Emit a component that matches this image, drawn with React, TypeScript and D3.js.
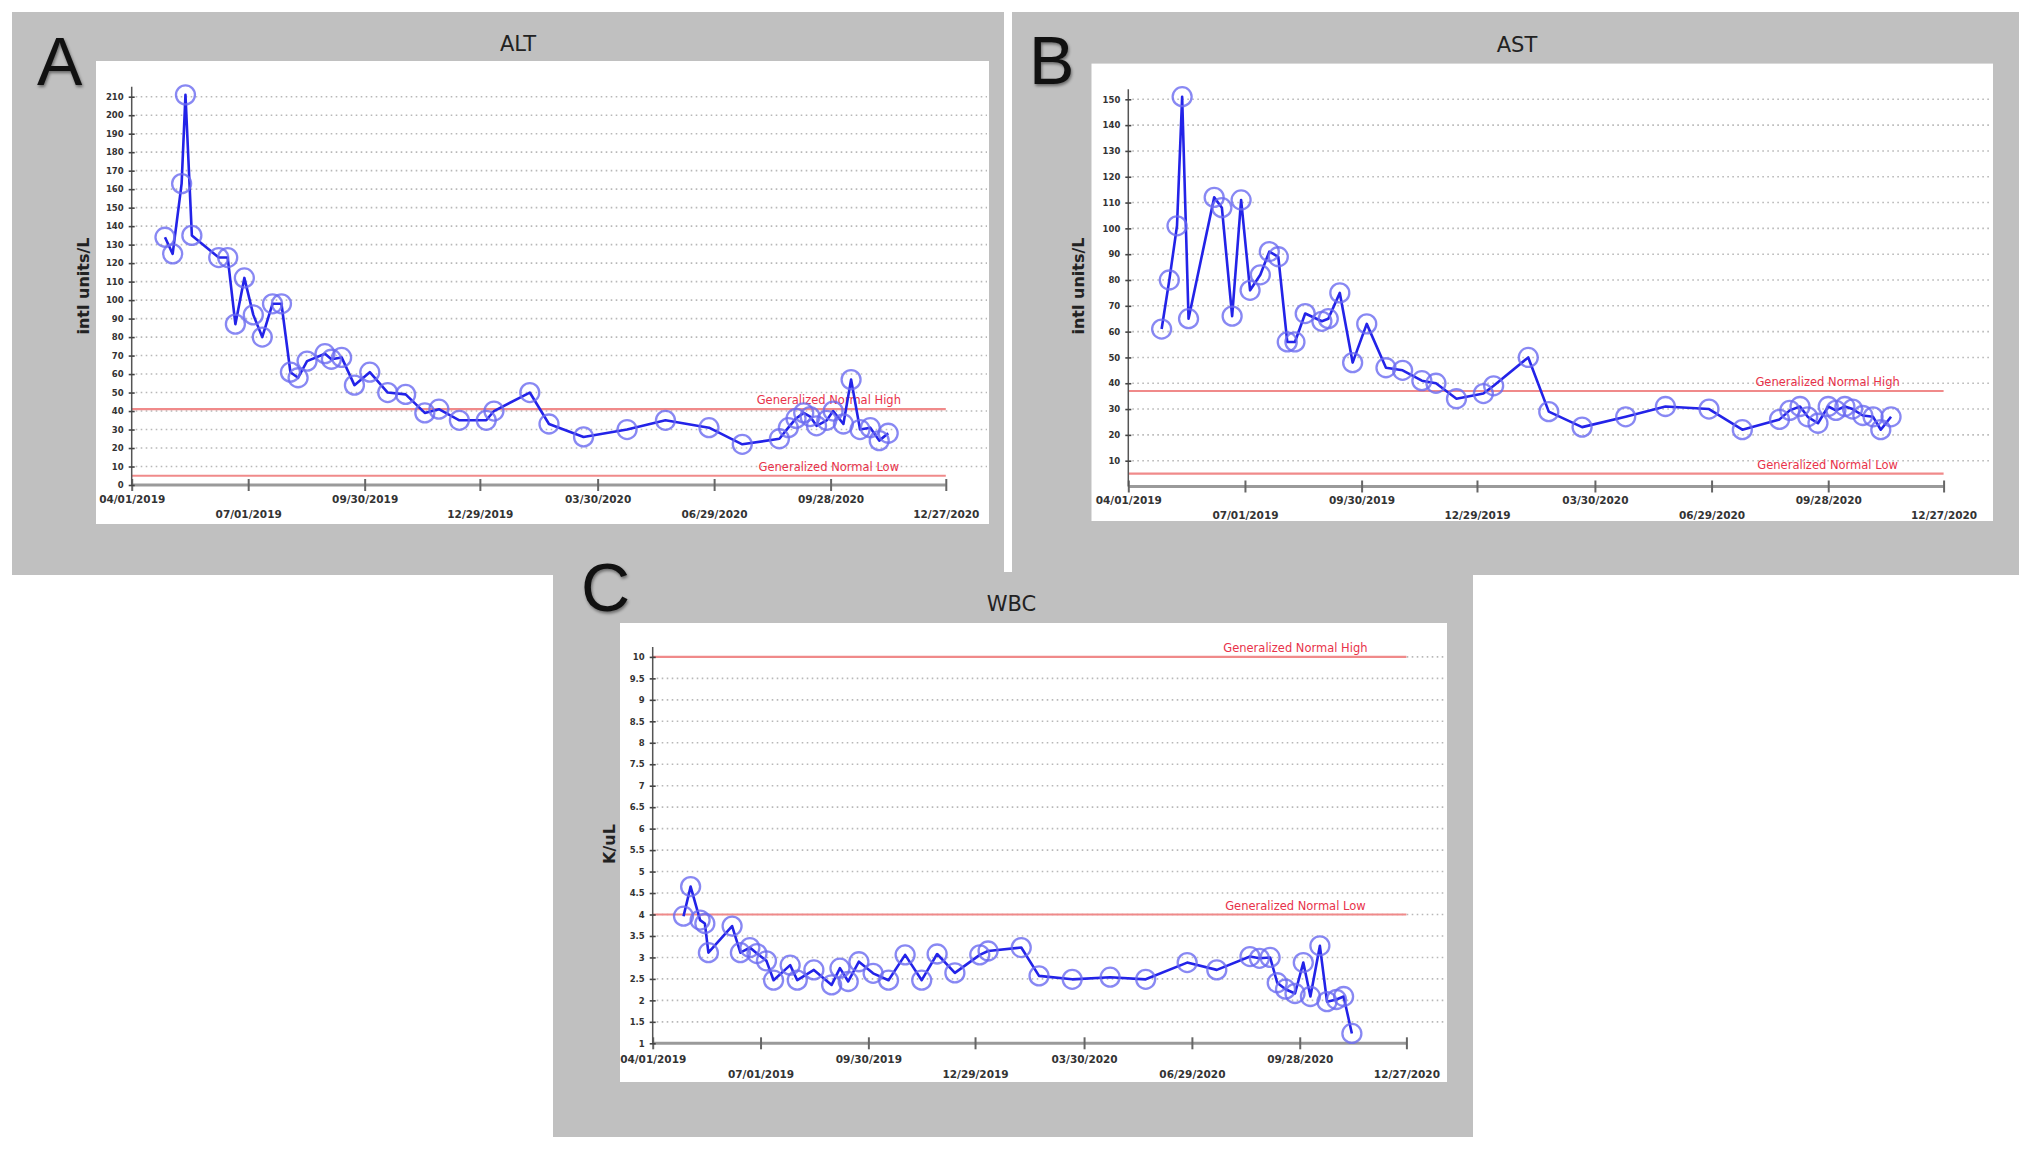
import React, { useEffect, useRef } from 'react';
import * as d3 from 'd3';

// shared date ticks (labels alternate between two rows)
const xTickLabels = ['04/01/2019', '07/01/2019', '09/30/2019', '12/29/2019', '03/30/2020', '06/29/2020', '09/28/2020', '12/27/2020'];
const normalLabels = ['Generalized Normal High', 'Generalized Normal Low'];

// ALT (intl units/L)
const altDates = [
  '04/27/2019', '05/03/2019', '05/10/2019', '05/13/2019', '05/18/2019', '06/08/2019', '06/15/2019', '06/21/2019',
  '06/28/2019', '07/05/2019', '07/12/2019', '07/20/2019', '07/27/2019', '08/03/2019', '08/09/2019', '08/16/2019',
  '08/30/2019', '09/04/2019', '09/12/2019', '09/22/2019', '10/04/2019', '10/18/2019', '11/01/2019', '11/16/2019',
  '11/27/2019', '12/13/2019', '01/03/2020', '01/09/2020', '02/06/2020', '02/21/2020', '03/19/2020', '04/22/2020',
  '05/22/2020', '06/25/2020', '07/21/2020', '08/19/2020', '08/26/2020', '09/01/2020', '09/07/2020', '09/12/2020',
  '09/17/2020', '09/25/2020', '09/30/2020', '10/08/2020', '10/14/2020', '10/21/2020', '10/29/2020', '11/05/2020',
  '11/12/2020',
];
const altValues = [
  134, 125, 163, 211, 135, 123, 123, 87,
  112, 92, 80, 98, 98, 61, 58, 67,
  71, 68, 69, 54, 61, 50, 49, 39,
  41, 35, 35, 40, 50, 33, 26, 30,
  35, 31, 22, 25, 31, 36, 39, 37,
  32, 35, 40, 33, 57, 30, 31, 24,
  28,
];
const altYTicks = [0, 10, 20, 30, 40, 50, 60, 70, 80, 90, 100, 110, 120, 130, 140, 150, 160, 170, 180, 190, 200, 210];
const altNormal = [41, 5];

// AST (intl units/L)
const astDates = [
  '04/27/2019', '05/03/2019', '05/09/2019', '05/13/2019', '05/18/2019', '06/07/2019', '06/13/2019', '06/21/2019',
  '06/28/2019', '07/05/2019', '07/13/2019', '07/20/2019', '07/27/2019', '08/03/2019', '08/09/2019', '08/17/2019',
  '08/30/2019', '09/04/2019', '09/13/2019', '09/23/2019', '10/04/2019', '10/19/2019', '11/01/2019', '11/16/2019',
  '11/27/2019', '12/13/2019', '01/03/2020', '01/11/2020', '02/07/2020', '02/23/2020', '03/20/2020', '04/23/2020',
  '05/24/2020', '06/27/2020', '07/23/2020', '08/21/2020', '08/29/2020', '09/06/2020', '09/12/2020', '09/20/2020',
  '09/28/2020', '10/04/2020', '10/11/2020', '10/17/2020', '10/25/2020', '11/02/2020', '11/08/2020', '11/16/2020',
];
const astValues = [
  61, 80, 101, 151, 65, 112, 108, 66,
  111, 76, 82, 91, 89, 56, 56, 67,
  64, 65, 75, 48, 63, 46, 45, 41,
  40, 34, 36, 39, 50, 29, 23, 27,
  31, 30, 22, 26, 29.5, 31, 27, 24.5,
  31, 29.5, 31, 30, 27.5, 27, 22, 27,
];
const astYTicks = [10, 20, 30, 40, 50, 60, 70, 80, 90, 100, 110, 120, 130, 140, 150];
const astNormal = [37, 5];

// WBC (K/uL)
const wbcDates = [
  '04/27/2019', '05/03/2019', '05/11/2019', '05/15/2019', '05/18/2019', '06/07/2019', '06/14/2019', '06/22/2019',
  '06/28/2019', '07/06/2019', '07/12/2019', '07/26/2019', '08/01/2019', '08/15/2019', '08/30/2019', '09/06/2019',
  '09/13/2019', '09/22/2019', '10/04/2019', '10/17/2019', '10/31/2019', '11/14/2019', '11/27/2019', '12/12/2019',
  '01/02/2020', '01/09/2020', '02/06/2020', '02/21/2020', '03/20/2020', '04/21/2020', '05/21/2020', '06/25/2020',
  '07/20/2020', '08/17/2020', '08/25/2020', '09/03/2020', '09/09/2020', '09/16/2020', '09/24/2020', '10/01/2020',
  '10/07/2020', '10/15/2020', '10/21/2020', '10/29/2020', '11/04/2020', '11/11/2020',
];
const wbcValues = [
  3.96, 4.65, 3.87, 3.79, 3.11, 3.73, 3.11, 3.23,
  3.09, 2.92, 2.47, 2.82, 2.47, 2.71, 2.36, 2.75,
  2.44, 2.9, 2.63, 2.47, 3.06, 2.47, 3.08, 2.64,
  3.06, 3.15, 3.23, 2.57, 2.49, 2.54, 2.49, 2.88,
  2.71, 3.02, 2.98, 3.0, 2.41, 2.26, 2.16, 2.88,
  2.09, 3.27, 1.97, 2.02, 2.09, 1.23,
];
const wbcYTicks = [1, 1.5, 2, 2.5, 3, 3.5, 4, 4.5, 5, 5.5, 6, 6.5, 7, 7.5, 8, 8.5, 9, 9.5, 10];
const wbcNormal = [10, 4];

const parse = d3.timeParse('%m/%d/%Y');
const fmt = d3.timeFormat('%m/%d/%Y');
const FONT = 'DejaVu Sans';

interface PanelSpec {
  letter: string;
  title: string;
  yLabel: string;
  dates: string[];
  values: number[];
  yTicks: number[];
  yDomain: [number, number];
  normal: number[];
  gray: [number, number, number, number]; // x0, y0, x1, y1
  white: [number, number, number, number];
  xRange: [number, number];
  yRange: [number, number];
  titlePos: [number, number];
  letterPos: [number, number];
  yLabelPos: [number, number];
  rows: [number, number];
  normalLabelShift: number;
}

const panels: PanelSpec[] = [
  {
    letter: 'A', title: 'ALT', yLabel: 'intl units/L',
    dates: altDates, values: altValues, yTicks: altYTicks, yDomain: [0, 210], normal: altNormal,
    gray: [12, 12, 1004, 575], white: [96, 61, 989, 524],
    xRange: [131.7, 945.8], yRange: [485, 96.7],
    titlePos: [518, 51], letterPos: [37, 85], yLabelPos: [83, 286], rows: [11, 26], normalLabelShift: 117,
  },
  {
    letter: 'B', title: 'AST', yLabel: 'intl units/L',
    dates: astDates, values: astValues, yTicks: astYTicks, yDomain: [0, 150], normal: astNormal,
    gray: [1012, 12, 2019, 575], white: [1091.5, 63.6, 1993, 521],
    xRange: [1128.3, 1943.6], yRange: [486.5, 99.3],
    titlePos: [1517, 52], letterPos: [1029, 84], yLabelPos: [1078.5, 286], rows: [10, 25], normalLabelShift: 116,
  },
  {
    letter: 'C', title: 'WBC', yLabel: 'K/uL',
    dates: wbcDates, values: wbcValues, yTicks: wbcYTicks, yDomain: [1, 10], normal: wbcNormal,
    gray: [553, 572, 1473, 1137], white: [620, 623, 1447, 1082],
    xRange: [652.7, 1406.4], yRange: [1043.3, 656.9],
    titlePos: [1011.5, 611], letterPos: [581, 611], yLabelPos: [609, 844], rows: [12.5, 27.5], normalLabelShift: 111,
  },
];

function drawPanel(svg: d3.Selection<SVGSVGElement, unknown, null, undefined>, p: PanelSpec) {
  const g = svg.append('g');
  const [x0, x1] = p.xRange;

  const x = d3.scaleTime()
    .domain([parse(xTickLabels[0])!, parse(xTickLabels[xTickLabels.length - 1])!])
    .range(p.xRange);
  const y = d3.scaleLinear().domain(p.yDomain).range(p.yRange);
  const yBase = y(p.yDomain[0]);

  // backgrounds
  g.append('rect')
    .attr('x', p.gray[0]).attr('y', p.gray[1])
    .attr('width', p.gray[2] - p.gray[0]).attr('height', p.gray[3] - p.gray[1])
    .attr('fill', '#c0c0c0');
  g.append('rect')
    .attr('x', p.white[0]).attr('y', p.white[1])
    .attr('width', p.white[2] - p.white[0]).attr('height', p.white[3] - p.white[1])
    .attr('fill', '#ffffff');

  // dotted grid
  g.append('g')
    .selectAll('line')
    .data(p.yTicks.filter(t => t !== p.yDomain[0]))
    .join('line')
    .attr('x1', x0 + 4).attr('x2', p.white[2] - 2)
    .attr('y1', d => y(d)).attr('y2', d => y(d))
    .attr('stroke', '#b8b8b8')
    .attr('stroke-width', 1.6)
    .attr('stroke-dasharray', '1.6 3.4');

  // normal range lines
  const norm = g.append('g');
  p.normal.forEach((v, i) => {
    norm.append('line')
      .attr('x1', x0).attr('x2', x1)
      .attr('y1', y(v)).attr('y2', y(v))
      .attr('stroke', '#f08a8a')
      .attr('stroke-width', 2.2);
    norm.append('text')
      .attr('x', x1 - p.normalLabelShift)
      .attr('y', y(v) - 5)
      .attr('text-anchor', 'middle')
      .attr('font-family', FONT)
      .attr('font-size', 11.5)
      .attr('fill', '#e8324a')
      .text(normalLabels[i]);
  });

  // x axis
  g.append('line')
    .attr('x1', x0).attr('x2', x1)
    .attr('y1', yBase).attr('y2', yBase)
    .attr('stroke', '#9a9a9a').attr('stroke-width', 3);
  const xAxis = g.append('g')
    .attr('transform', `translate(0,${yBase})`)
    .call(d3.axisBottom(x)
      .tickValues(xTickLabels.map(s => parse(s)!))
      .tickFormat(d => fmt(d as Date))
      .tickSize(6));
  xAxis.select('.domain').remove();
  xAxis.attr('font-family', FONT).attr('font-size', 10.5);
  xAxis.selectAll('.tick line').attr('y1', -6).attr('stroke', '#666').attr('stroke-width', 2);
  xAxis.selectAll<SVGTextElement, Date>('.tick text')
    .attr('y', (_d, i) => (i % 2 === 0 ? p.rows[0] : p.rows[1]))
    .attr('fill', '#333')
    .attr('font-weight', 'bold');

  // y axis
  g.append('line')
    .attr('x1', x0).attr('x2', x0)
    .attr('y1', yBase).attr('y2', y(p.yDomain[1]) - 10)
    .attr('stroke', '#555').attr('stroke-width', 1.5);
  const yAxis = g.append('g')
    .attr('transform', `translate(${x0},0)`)
    .call(d3.axisLeft(y).tickValues(p.yTicks).tickSize(3).tickPadding(5).tickFormat(d3.format('~g')));
  yAxis.select('.domain').remove();
  yAxis.attr('font-family', FONT).attr('font-size', 8.5);
  yAxis.selectAll('.tick line').attr('x1', 3).attr('stroke', '#444').attr('stroke-width', 1.6);
  yAxis.selectAll('.tick text').attr('fill', '#333').attr('font-weight', 'bold');

  // series
  const pts = p.dates.map((d, i) => ({ date: parse(d)!, v: p.values[i] }));
  const line = d3.line<{ date: Date; v: number }>()
    .x(d => x(d.date))
    .y(d => y(d.v));
  g.append('path')
    .datum(pts)
    .attr('d', line)
    .attr('fill', 'none')
    .attr('stroke', '#2323e8')
    .attr('stroke-width', 2.6)
    .attr('stroke-linejoin', 'round');
  g.append('g')
    .selectAll('circle')
    .data(pts)
    .join('circle')
    .attr('cx', d => x(d.date))
    .attr('cy', d => y(d.v))
    .attr('r', 9.5)
    .attr('fill', 'none')
    .attr('stroke', '#6a6af0')
    .attr('stroke-width', 2.3)
    .attr('opacity', 0.8);

  // titles
  g.append('text')
    .attr('x', p.titlePos[0]).attr('y', p.titlePos[1])
    .attr('text-anchor', 'middle')
    .attr('font-family', FONT).attr('font-size', 21)
    .attr('fill', '#222')
    .text(p.title);
  g.append('text')
    .attr('transform', `translate(${p.yLabelPos[0]},${p.yLabelPos[1]}) rotate(-90)`)
    .attr('text-anchor', 'middle')
    .attr('dy', '0.35em')
    .attr('font-family', FONT).attr('font-size', 16).attr('font-weight', 'bold')
    .attr('fill', '#222')
    .text(p.yLabel);
  g.append('text')
    .attr('x', p.letterPos[0]).attr('y', p.letterPos[1])
    .attr('font-family', 'Liberation Sans').attr('font-size', 68)
    .attr('fill', '#111')
    .style('filter', 'drop-shadow(1px 2px 1.5px rgba(0,0,0,0.45))')
    .text(p.letter);
}

export default function App() {
  const svgRef = useRef<SVGSVGElement>(null);

  useEffect(() => {
    document.body.style.margin = '0';
    if (!svgRef.current) return;
    const svg = d3.select(svgRef.current);
    svg.selectAll('*').remove();
    panels.forEach(p => drawPanel(svg, p));
  }, []);

  return (
    <svg ref={svgRef} width={2032} height={1153} style={{ display: 'block', background: '#fff' }} />
  );
}
